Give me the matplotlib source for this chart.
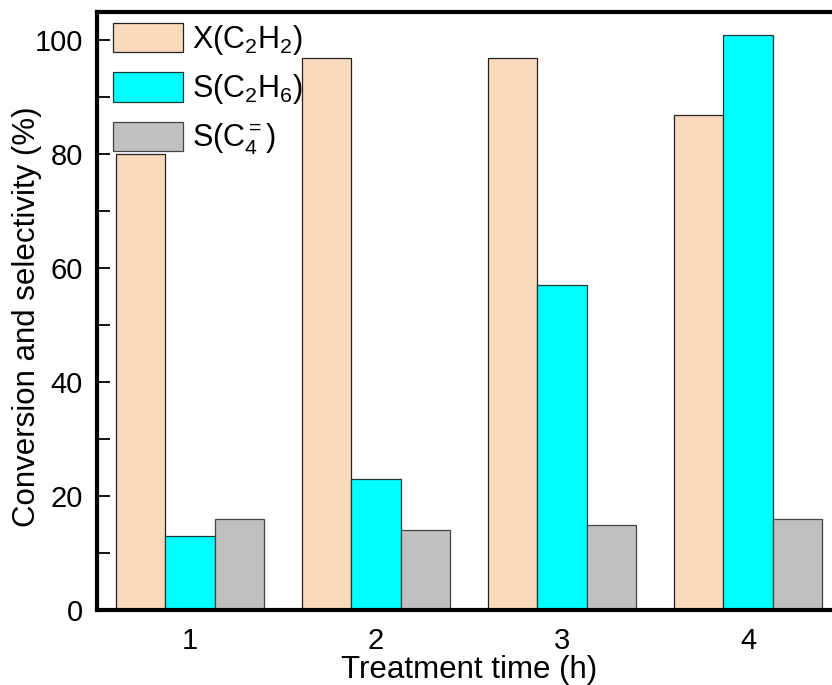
import matplotlib
matplotlib.use("Agg")
import matplotlib.pyplot as plt
import numpy as np
from matplotlib.ticker import MultipleLocator

# data
times = [1, 2, 3, 4]
conv_c2h2 = [80, 97, 97, 87]
sel_c2h6 = [13, 23, 57, 101]
sel_c4 = [16, 14, 15, 16]
labels = [r"X(C$_2$H$_2$)", r"S(C$_2$H$_6$)", r"S(C$_4^{=}$)"]

plt.rcParams["font.family"] = ["Liberation Sans", "DejaVu Sans"]
plt.rcParams["mathtext.fontset"] = "custom"
plt.rcParams["mathtext.rm"] = "Liberation Sans"
plt.rcParams["mathtext.it"] = "Liberation Sans:italic"
plt.rcParams["mathtext.default"] = "regular"

fig = plt.figure(figsize=(8.32, 6.85), dpi=100)
ax = fig.add_axes([97 / 832, 75 / 685, 744 / 832, 598 / 685])

x = np.array(times)
w = 0.267
ax.bar(x - w, conv_c2h2, w, color="#FAD9BC", edgecolor="#222222", lw=0.9, label=labels[0])
ax.bar(x, sel_c2h6, w, color="#00FFFF", edgecolor="#1a3a3a", lw=0.9, label=labels[1])
ax.bar(x + w, sel_c4, w, color="#C0C0C0", edgecolor="#444444", lw=0.9, label=labels[2])

ax.set_xlim(0.5, 4.5)
ax.set_ylim(0, 105)
ax.set_xticks(times)
ax.yaxis.set_major_locator(MultipleLocator(20))
ax.yaxis.set_minor_locator(MultipleLocator(10))
ax.tick_params(axis="x", length=0, labelsize=21, pad=12)
ax.tick_params(axis="y", which="both", direction="in", length=9, width=1.3, labelsize=21, pad=10)

for s in ["left", "bottom", "top"]:
    ax.spines[s].set_linewidth(3)
ax.spines["right"].set_visible(False)

ax.set_xlabel("Treatment time (h)", fontsize=22.5, labelpad=0)
ax.set_ylabel("Conversion and selectivity (%)", fontsize=22.5)
ax.yaxis.set_label_coords(-0.074, 0.49)

ax.legend(loc="upper left", bbox_to_anchor=(16 / 744, 1 - 11 / 598), frameon=False,
          fontsize=22, borderpad=0, borderaxespad=0, handlelength=2.3,
          handleheight=1.1, handletextpad=0.28, labelspacing=0.5)

fig.savefig("out.png", dpi=100)
